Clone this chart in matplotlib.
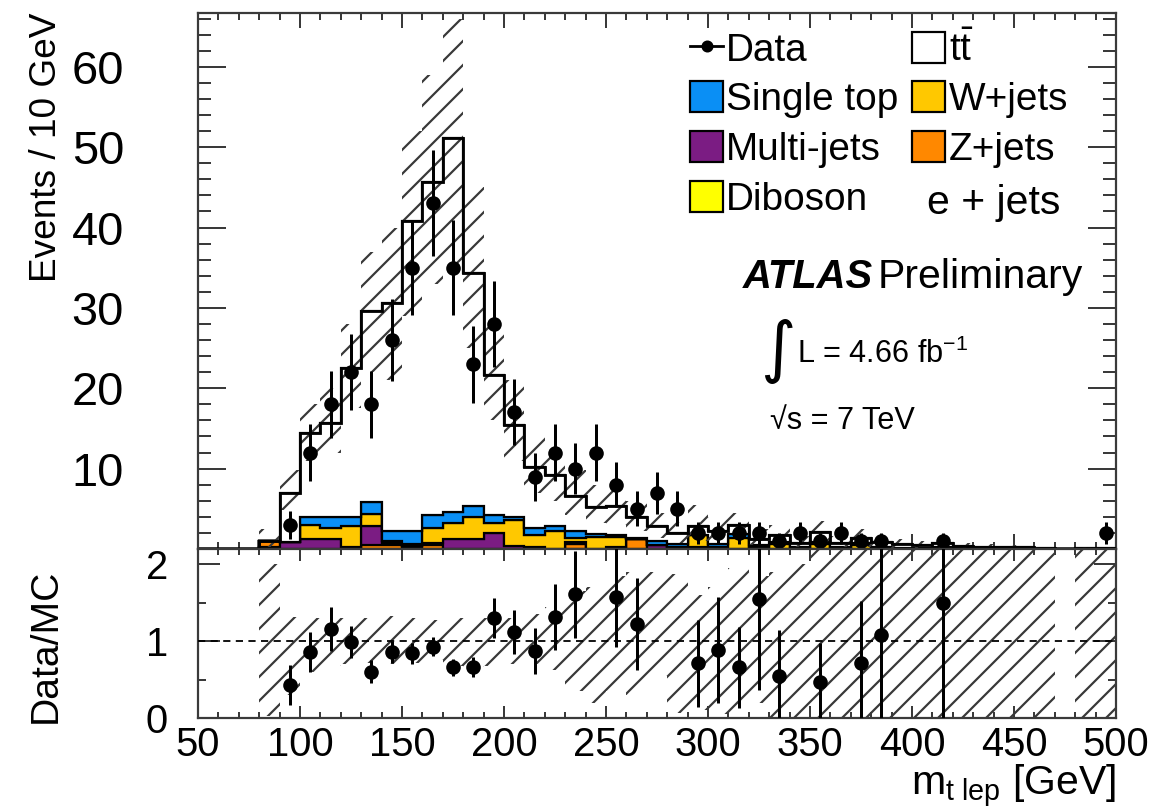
import numpy as np
import matplotlib
matplotlib.use("Agg")
import matplotlib.pyplot as plt
from matplotlib.patches import Patch
from matplotlib.lines import Line2D
from matplotlib.ticker import MultipleLocator

plt.rcParams["font.family"] = ["Liberation Sans", "DejaVu Sans"]
plt.rcParams["mathtext.fontset"] = "custom"
plt.rcParams["mathtext.rm"] = "Liberation Sans"
plt.rcParams["mathtext.it"] = "Liberation Sans:italic"
plt.rcParams["mathtext.bf"] = "Liberation Sans:bold"
plt.rcParams["hatch.linewidth"] = 1.1

# 10 GeV bins, 50-500 GeV
edges = np.arange(50, 501, 10)
centers = edges[:-1] + 5

# stacked MC, bottom to top
diboson = [0, 0, 0, 0.3, 0, 0, 0, 0, 0, 0, 0, 0, 0, 0, 0, 0, 0, 0, 0, 0, 0, 0, 0, 0,
           0, 0, 0, 0, 0, 0, 0, 0, 0, 0, 0, 0, 0, 0, 0, 0, 0, 0, 0, 0, 0]
zjets = [0, 0, 0, 0.7, 0, 0, 0, 0, 0.5, 0.5, 0.2, 0.5, 0, 0, 0, 0, 0, 0, 0.6, 0, 0.3, 1.3, 0, 0,
         0, 0, 0, 0, 0, 0, 0, 0, 0, 0, 0, 0, 0, 0, 0, 0, 0, 0, 0, 0, 0]
multijet = [0, 0, 0, 0, 0.9, 1.3, 1.3, 0.2, 2.3, 0.2, 0.2, 0.2, 1.3, 1.2, 2.0, 0.4, 0.2, 0, 0.3, 0, 0, 0, 0.5, 0.3,
            0.3, 0, 0, 0.2, 0, 0, 0, 0, 0, 0, 0, 0, 0, 0, 0, 0, 0, 0, 0, 0, 0]
wjets = [0, 0, 0, 0, 0, 1.7, 1.3, 2.7, 1.5, 0.3, 0.2, 1.9, 1.9, 2.8, 1.2, 3.2, 1.6, 2.2, 0.5, 1.5, 1.2, 0, 0, 0,
         1.5, 0.2, 1.4, 0, 0.6, 0, 0.6, 0, 0.5, 0, 0, 0, 0, 0, 0, 0, 0, 0, 0, 0, 0]
single_top = [0, 0, 0, 0, 0, 1.0, 1.4, 1.1, 1.6, 1.3, 1.7, 1.6, 1.4, 1.3, 1.0, 0.4, 0.8, 0.6, 0.8, 0.4, 0.2, 0.1, 0.5, 0.3,
              0, 0.4, 0.5, 0.3, 0.3, 0.3, 0.3, 0.2, 0.2, 0.3, 0.1, 0.1, 0.2, 0.1, 0, 0, 0, 0, 0, 0, 0]
ttbar = [0, 0, 0, 0, 6.1, 10.4, 11.7, 18.5, 23.7, 28.3, 38.5, 41.5, 46.6, 29.0, 17.5, 11.4, 7.6, 6.4, 4.4, 3.3, 3.6, 2.6, 1.8, 1.4,
         1.0, 1.7, 1.1, 0.8, 0.9, 0.5, 1.2, 0.6, 0.7, 0.6, 0.5, 0.4, 0.5, 0.3, 0.3, 0.25, 0.25, 0.15, 0, 0.1, 0.1]

# MC uncertainty band (absolute), NaN where there is no prediction
band_lo = [np.nan, np.nan, np.nan, 0.2, 4.9, 11, 12, 17.5, 22, 21, 29, 33, 35, 25, 16, 11, 7, 6, 4.2, 3.2, 3.0, 2.3, 1.4, 0.8,
           1.0, 1.0, 1.5, 0.5, 0.5, 0.2, 0.6, 0.2, 0.3, 0.1, 0, 0, 0, 0, 0, 0, 0, 0, np.nan, 0, 0]
band_hi = [np.nan, np.nan, np.nan, 2.5, 9.8, 18, 20, 28, 37, 40, 52, 59, 66, 45, 28, 21, 14, 12, 9.8, 8.0, 7.8, 6.0, 4.5, 3.4,
           5.5, 4.0, 4.5, 2.5, 3.0, 1.6, 3.5, 1.6, 2.5, 1.8, 1.2, 1.0, 1.2, 0.7, 0.6, 0.5, 0.5, 0.3, np.nan, 0.3, 0.3]

# data, events per bin
data = [0, 0, 0, 0, 3, 12, 18, 22, 18, 26, 35, 43, 35, 23, 28, 17, 9, 12, 10, 12, 8, 5, 7, 5,
        2, 2, 2, 2, 1, 2, 1, 2, 1, 1, 0, 0, 1, 0, 0, 0, 0, 0, 0, 0, 2]
data_err = [0, 0, 0, 0, 1.7, 3.5, 4.2, 4.7, 4.2, 5.1, 5.9, 6.6, 5.9, 4.8, 5.3, 4.1, 3.0, 3.5, 3.2, 3.5, 2.8, 2.2, 2.6, 2.2,
            1.4, 1.4, 1.4, 1.4, 1.0, 1.4, 1.0, 1.4, 1.0, 1.0, 0, 0, 1.0, 0, 0, 0, 0, 0, 0, 0, 1.4]

# Data/MC ratio points
ratio_x = [95, 105, 115, 125, 135, 145, 155, 165, 175, 185, 195, 205, 215, 225, 235, 255, 265,
           295, 305, 315, 325, 335, 355, 375, 385, 415]
ratio = [0.43, 0.86, 1.16, 0.99, 0.60, 0.86, 0.84, 0.93, 0.66, 0.66, 1.30, 1.12, 0.87, 1.31, 1.61, 1.58, 1.22,
         0.71, 0.88, 0.66, 1.55, 0.55, 0.47, 0.72, 1.08, 1.50]
ratio_err = [0.26, 0.26, 0.29, 0.21, 0.15, 0.14, 0.14, 0.12, 0.11, 0.13, 0.26, 0.29, 0.30, 0.43, 0.57, 0.66, 0.60,
             0.57, 0.69, 0.53, 1.19, 0.60, 0.50, 0.80, 1.20, 1.60]

# relative MC uncertainty in the ratio panel
rband_lo = [np.nan, np.nan, np.nan, 0.02, 0.3, 0.6, 0.68, 0.7, 0.72, 0.7, 0.72, 0.75, 0.68, 0.66, 0.68, 0.7, 0.7, 0.62, 0.35, 0.2,
            0.35, 0.3, 0.55, 0.06, 0.1, 0.05, 0.05, 0.2, 0, 0, 0, 0, 0, 0, 0, 0, 0, 0, 0, 0, 0, 0, np.nan, 0, 0]
rband_hi = [np.nan, np.nan, np.nan, 2.0, 1.32, 1.3, 1.3, 1.3, 1.3, 1.33, 1.3, 1.28, 1.3, 1.3, 1.3, 1.3, 1.35, 1.45, 1.65, 1.7,
            1.85, 1.9, 1.9, 1.88, 1.6, 1.7, 1.95, 1.85, 1.9, 2.0, 2.3, 2.5, 2.5, 2.5, 2.5, 2.5, 2.5, 2.5, 2.5, 2.5, 2.5, 2.5,
            np.nan, 2.5, 2.5]

samples = [
    ("Diboson", diboson, "#ffff00"),
    ("Z+jets", zjets, "#ff8800"),
    ("Multi-jets", multijet, "#7b1c83"),
    ("W+jets", wjets, "#ffc800"),
    ("Single top", single_top, "#0a8ff5"),
    (r"$\mathrm{t}\bar{\mathrm{t}}$", ttbar, "white"),
]

# 144 dpi so that the "//" hatch comes out at ROOT-like spacing
DPI = 144
frame = "#3a3a3a"
fig = plt.figure(figsize=(1168 / DPI, 809 / DPI), dpi=DPI)
ax = fig.add_axes([0.1695, 0.3214, 0.7860, 0.6626])
rax = fig.add_axes([0.1695, 0.1125, 0.7860, 0.2089], sharex=ax)

# stack
bottom = np.zeros(len(centers))
for name, vals, col in samples:
    vals = np.asarray(vals, dtype=float)
    ax.stairs(bottom + vals, edges, baseline=bottom.copy(), fill=True,
              facecolor=col, edgecolor="black", linewidth=1.1, zorder=2)
    bottom = bottom + vals
ax.stairs(bottom, edges, baseline=None, color="black", linewidth=1.4, zorder=4)

# uncertainty band
blo = np.asarray(band_lo)
bhi = np.asarray(band_hi)
ax.bar(centers, bhi - blo, bottom=blo, width=10, fill=False, hatch="//",
       edgecolor="#383838", linewidth=0, zorder=3)

# data
d = np.asarray(data, dtype=float)
de = np.asarray(data_err)
m = d > 0
ax.errorbar(centers[m], d[m], yerr=de[m], fmt="o", color="black", ms=6.3,
            elinewidth=1.5, capsize=0, zorder=5)

ax.set_xlim(50, 500)
ax.set_ylim(0, 66.7)
ax.yaxis.set_minor_locator(MultipleLocator(2))
ax.xaxis.set_major_locator(MultipleLocator(50))
ax.xaxis.set_minor_locator(MultipleLocator(10))
ax.set_yticks([10, 20, 30, 40, 50, 60])
plt.setp(ax.get_xticklabels(), visible=False)

# ratio panel
rlo = np.asarray(rband_lo)
rhi = np.asarray(rband_hi)
rax.bar(centers, rhi - rlo, bottom=rlo, width=10, fill=False, hatch="//",
        edgecolor="#383838", linewidth=0, zorder=2)
rax.axhline(1.0, color="black", linestyle=(0, (4, 3)), linewidth=0.9, zorder=3)
rax.errorbar(ratio_x, ratio, yerr=ratio_err, fmt="o", color="black", ms=6.3,
             elinewidth=1.5, capsize=0, zorder=5)
rax.set_ylim(0, 2.2)
rax.set_yticks([0, 1, 2])
rax.yaxis.set_minor_locator(MultipleLocator(0.5))

for a in (ax, rax):
    for s in a.spines.values():
        s.set_linewidth(1.1)
        s.set_color(frame)
    a.tick_params(which="both", direction="in", top=True, right=True,
                  color=frame, width=1.0, labelsize=20)

ax.tick_params(axis="y", which="major", length=13.9, pad=37, labelsize=23.5)
ax.tick_params(axis="y", which="minor", length=6.6)
ax.tick_params(axis="x", which="major", length=7.6)
ax.tick_params(axis="x", which="minor", length=3.5)
rax.tick_params(axis="y", which="major", length=11, pad=15)
rax.tick_params(axis="y", which="minor", length=4.2)
rax.tick_params(axis="x", which="major", length=6.2, pad=4)
rax.tick_params(axis="x", which="minor", length=2.8)

ax.set_ylabel("Events / 10 GeV", fontsize=18.5, loc="top")
ax.yaxis.set_label_coords(-0.146, 1.0)
rax.set_ylabel("Data/MC", fontsize=19.5)
rax.yaxis.set_label_coords(-0.146, 0.43)
rax.set_xlabel(r"m$_{\mathrm{t\ lep}}$ [GeV]", fontsize=20.5, loc="right")
rax.xaxis.set_label_coords(1.0, -0.265)

# legend
handles = [
    Line2D([], [], color="black", marker="o", ms=5, lw=1.4),
    Patch(facecolor="#0a8ff5", edgecolor="black", lw=1.1),
    Patch(facecolor="#7b1c83", edgecolor="black", lw=1.1),
    Patch(facecolor="#ffff00", edgecolor="black", lw=1.1),
    Patch(facecolor="white", edgecolor="black", lw=1.1),
    Patch(facecolor="#ffc800", edgecolor="black", lw=1.1),
    Patch(facecolor="#ff8800", edgecolor="black", lw=1.1),
]
labels = ["Data", "Single top", "Multi-jets", "Diboson",
          r"$\mathrm{t}\bar{\mathrm{t}}$", "W+jets", "Z+jets"]
ax.legend(handles, labels, ncol=2, loc="upper left", bbox_to_anchor=(0.536, 0.966),
          frameon=False, fontsize=19.4, handlelength=0.85, handleheight=0.85,
          handletextpad=0.08, columnspacing=0.36, labelspacing=0.33,
          borderpad=0, borderaxespad=0)

ax.text(0.939, 0.645, "e + jets", transform=ax.transAxes, fontsize=20.5,
        ha="right", va="center")
ax.text(0.594, 0.507, "ATLAS", transform=ax.transAxes, fontsize=20,
        fontweight="bold", fontstyle="italic", va="center")
ax.text(0.74, 0.507, "Preliminary", transform=ax.transAxes, fontsize=20.5,
        va="center")
ax.text(0.612, 0.369, "\u222b", transform=ax.transAxes, fontsize=34,
        va="center", family="DejaVu Sans")
ax.text(0.6525, 0.364, r"L = 4.66 fb$^{\mathregular{-1}}$", transform=ax.transAxes,
        fontsize=15.3, va="center")
ax.text(0.623, 0.238, "\u221as = 7 TeV", transform=ax.transAxes, fontsize=15.3,
        va="center")

fig.savefig("out.png", dpi=DPI)
